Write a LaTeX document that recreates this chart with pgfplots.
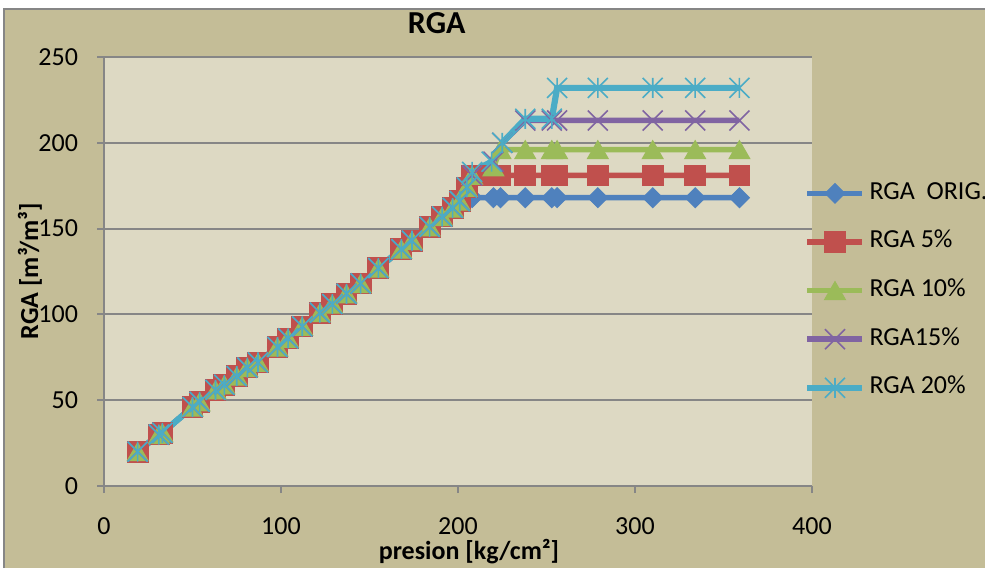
\documentclass[border=0pt]{standalone}
\usepackage{fontspec}
\setmainfont{Carlito}
\usepackage{pgfplots}
\pgfplotsset{compat=1.18}
\definecolor{c1}{HTML}{4F81BD}
\definecolor{c2}{HTML}{C0504D}
\definecolor{c3}{HTML}{9BBB59}
\definecolor{c4}{HTML}{8064A2}
\definecolor{c5}{HTML}{4BACC6}
\definecolor{outerbg}{HTML}{C4BD97}
\definecolor{plotbg}{HTML}{DDD9C3}
\definecolor{gridc}{HTML}{868686}
\pgfdeclareplotmark{xstar}{%
  \pgfpathmoveto{\pgfqpoint{-\pgfplotmarksize}{-\pgfplotmarksize}}%
  \pgfpathlineto{\pgfqpoint{\pgfplotmarksize}{\pgfplotmarksize}}%
  \pgfpathmoveto{\pgfqpoint{-\pgfplotmarksize}{\pgfplotmarksize}}%
  \pgfpathlineto{\pgfqpoint{\pgfplotmarksize}{-\pgfplotmarksize}}%
  \pgfpathmoveto{\pgfqpoint{0pt}{-\pgfplotmarksize}}%
  \pgfpathlineto{\pgfqpoint{0pt}{\pgfplotmarksize}}%
  \pgfusepathqstroke}
\pgfdeclareplotmark{xcross}{%
  \pgfpathmoveto{\pgfqpoint{-\pgfplotmarksize}{-\pgfplotmarksize}}%
  \pgfpathlineto{\pgfqpoint{\pgfplotmarksize}{\pgfplotmarksize}}%
  \pgfpathmoveto{\pgfqpoint{-\pgfplotmarksize}{\pgfplotmarksize}}%
  \pgfpathlineto{\pgfqpoint{\pgfplotmarksize}{-\pgfplotmarksize}}%
  \pgfusepathqstroke}
\begin{document}
\begin{tikzpicture}
\fill[white] (0pt,0pt) rectangle (492.5pt,284pt);
\fill[outerbg] (2pt,0pt) rectangle (492.5pt,279.5pt);
\draw[gridc, line width=0.75pt] (2pt,0pt) -- (2pt,279.5pt) -- (492.5pt,279.5pt);
\begin{axis}[
  at={(52pt,41pt)}, anchor=south west,
  scale only axis, width=354pt, height=214.5pt,
  xmin=0, xmax=400, ymin=0, ymax=250,
  xtick={0,100,200,300,400}, ytick={0,50,100,150,200,250},
  axis background/.style={fill=plotbg},
  axis x line*=bottom, axis y line*=left,
  axis line style={gridc, line width=1pt},
  tick style={gridc, line width=1pt},
  tick align=outside, major tick length=3.5pt,
  ymajorgrids, major grid style={gridc, line width=1pt},
  /pgf/number format/assume math mode=true,
  tick label style={font=\fontsize{13}{15}\selectfont, black},
  yticklabel style={xshift=-6pt},
  xticklabel style={yshift=-9pt},
  title={RGA},
  title style={at={(axis description cs:0.470,1.0513)}, anchor=center, font=\bfseries\fontsize{16}{19}\selectfont},
  xlabel={presion [kg/cm²]},
  xlabel style={at={(axis description cs:0.5155,-0.1538)}, anchor=center, font=\bfseries\fontsize{13}{15}\selectfont},
  ylabel={RGA [m³/m³]},
  ylabel style={at={(axis description cs:-0.1045,0.501)}, anchor=center, rotate=0, font=\bfseries\fontsize{13}{15}\selectfont},
  legend cell align=left,
  legend image code/.code={\draw[mark repeat=2,mark phase=2] plot coordinates {(0pt,0pt) (13.75pt,0pt) (27.5pt,0pt)};},
  legend style={at={(axis description cs:0.9887,0.711)}, anchor=north west, draw=none, fill=none,
    font=\fontsize{13}{15}\selectfont, inner sep=0pt, row sep=12.3pt, column sep=2pt,
    nodes={inner sep=0pt, text height=9pt, text depth=3pt}},
  every axis plot/.append style={line width=2.75pt},
]
\addplot[c1, mark=square*, mark size=3.5pt, mark options={solid, fill=c1, line width=0.5pt, rotate=45}] coordinates {
(19,20) (31,30) (33,31) (50,46) (54,49) (63,56) (68,59) (75,64) (81,69) (87,72) (98,81) (104,86) (112,93) (122,101) (129,106) (137,112) (145,118) (155,127) (168,138) (174,143) (184,151) (191,157) (197,162) (201,166) (205,168)
(208,168) (220,168) (224,168) (238,168) (253,168) (256,168) (279,168) (310,168) (334,168) (359,168)};
\addlegendentry{RGA\ \ ORIG.}
\addplot[c2, mark=square*, mark size=5.2pt, mark options={solid, fill=c2, line width=0.5pt}] coordinates {
(19,20) (31,30) (33,31) (50,46) (54,49) (63,56) (68,59) (75,64) (81,69) (87,72) (98,81) (104,86) (112,93) (122,101) (129,106) (137,112) (145,118) (155,127) (168,138) (174,143) (184,151) (191,157) (197,162) (201,166) (205,174)
(208,181) (220,181) (224,181) (238,181) (253,181) (256,181) (279,181) (310,181) (334,181) (359,181)};
\addlegendentry{RGA 5\%}
\addplot[c3, mark=triangle*, mark size=6pt, mark options={solid, fill=c3, line width=0.5pt, yshift=-1.5pt}] coordinates {
(19,20) (31,30) (33,31) (50,46) (54,49) (63,56) (68,59) (75,64) (81,69) (87,72) (98,81) (104,86) (112,93) (122,101) (129,106) (137,112) (145,118) (155,127) (168,138) (174,143) (184,151) (191,157) (197,162) (201,166) (205,174)
(208,181) (220,186) (224,196) (238,196) (253,196) (256,196) (279,196) (310,196) (334,196) (359,196)};
\addlegendentry{RGA 10\%}
\addplot[c4, mark=xcross, mark size=5pt, mark options={solid, line width=0.8pt}] coordinates {
(19,20) (31,30) (33,31) (50,46) (54,49) (63,56) (68,59) (75,64) (81,69) (87,72) (98,81) (104,86) (112,93) (122,101) (129,106) (137,112) (145,118) (155,127) (168,138) (174,143) (184,151) (191,157) (197,162) (201,166) (205,174)
(208,181) (220,189) (225,200) (238,213) (253,213) (256,213) (279,213) (310,213) (334,213) (359,213)};
\addlegendentry{RGA15\%}
\addplot[c5, line width=3.1pt, mark=xstar, mark size=5pt, mark options={solid, line width=0.8pt}] coordinates {
(19,20) (31,30) (33,31) (50,46) (54,49) (63,56) (68,59) (75,64) (81,69) (87,72) (98,81) (104,86) (112,93) (122,101) (129,106) (137,112) (145,118) (155,127) (168,138) (174,143) (184,151) (191,157) (197,162) (201,166) (205,174)
(208,183) (219,189) (225,200) (238,214) (253,214) (256,232) (279,232) (310,232) (334,232) (359,232)};
\addlegendentry{RGA 20\%}
\end{axis}
\pgfresetboundingbox
\useasboundingbox (0pt,0pt) rectangle (492.5pt,284pt);
\end{tikzpicture}
\end{document}
